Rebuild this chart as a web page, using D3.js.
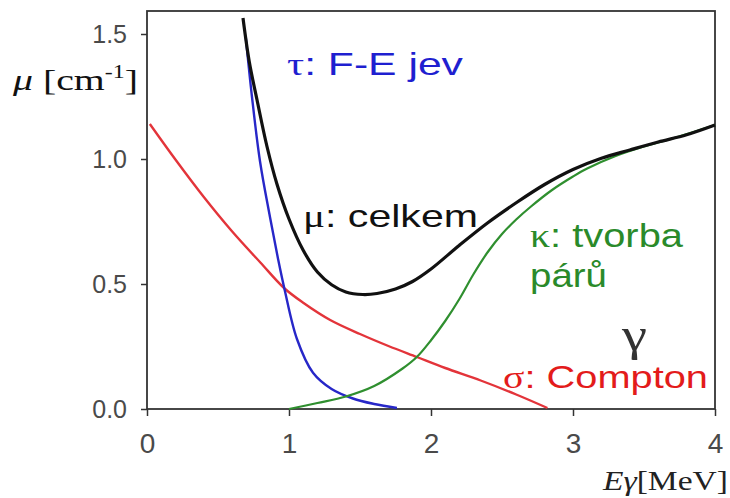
<!DOCTYPE html>
<html>
<head>
<meta charset="utf-8">
<script src="https://cdn.jsdelivr.net/npm/d3@7"></script>
<style>
  html, body { margin: 0; padding: 0; background: #fff; }
  svg { display: block; }
</style>
</head>
<body>
<svg id="chart" width="730" height="498"></svg>
<script>
// ---- data ----
const xTicks = [0, 1, 2, 3, 4];
const yTicks = [0.0, 0.5, 1.0, 1.5];
const xTickLabels = ["0", "1", "2", "3", "4"];
const yTickLabels = ["0.0", "0.5", "1.0", "1.5"];

// μ: celkem (total)
const totalMu = [[0.676,1.564],[0.72,1.39],[0.775,1.236],[0.845,1.05],[0.915,0.9],[1.0,0.76],
  [1.1,0.635],[1.2,0.548],[1.3,0.497],[1.4,0.468],[1.52,0.458],[1.62,0.462],[1.75,0.48],
  [1.87,0.51],[2.0,0.56],[2.2,0.655],[2.4,0.745],[2.6,0.825],[2.8,0.898],[3.0,0.958],
  [3.2,1.003],[3.4,1.036],[3.6,1.068],[3.8,1.097],[4.0,1.136]];
// τ: F-E jev (photoeffect)
const photoTau = [[0.695,1.49],[0.739,1.25],[0.796,0.99],[0.866,0.768],[0.923,0.6],[0.97,0.475],
  [1.056,0.28],[1.169,0.145],[1.3,0.08],[1.45,0.042],[1.6,0.02],[1.76,0.004]];
// σ: Compton
const comptonSigma = [[0.02,1.14],[0.2,0.998],[0.4,0.848],[0.6,0.71],[0.8,0.585],[0.965,0.484],
  [1.1,0.425],[1.29,0.356],[1.5,0.3],[1.7,0.252],[1.9,0.208],[2.1,0.164],[2.35,0.114],
  [2.6,0.058],[2.82,0.004]];
// κ: tvorba párů (pair production)
const pairKappa = [[1.0,0.0],[1.2,0.024],[1.4,0.05],[1.6,0.092],[1.8,0.162],[1.9,0.208],
  [2.0,0.275],[2.1,0.352],[2.2,0.44],[2.3,0.54],[2.4,0.628],[2.5,0.7],[2.6,0.758],[2.7,0.808],
  [2.85,0.875],[3.0,0.93],[3.1,0.962],[3.3,1.012],[3.5,1.05],[3.7,1.082],[4.0,1.136]];

// ---- layout ----
const W = 730, H = 498;
const m = {left: 147, right: 15, top: 11, bottom: 89};
const svg = d3.select("#chart");
svg.append("rect").attr("width", W).attr("height", H).attr("fill", "#fff");

const x = d3.scaleLinear().domain([0, 4]).range([m.left, W - m.right]);
const y = d3.scaleLinear().domain([0, 1.592]).range([H - m.bottom, m.top]);

const SANS = "'Liberation Sans', Arial, sans-serif";
const SERIF = "'Liberation Serif', 'Times New Roman', serif";

// axes
const yAxis = svg.append("g").attr("transform", `translate(${m.left},0)`)
  .call(d3.axisLeft(y).tickValues(yTicks).tickFormat((d, i) => yTickLabels[i]).tickSize(6).tickPadding(14));
const xAxis = svg.append("g").attr("transform", `translate(0,${H - m.bottom})`)
  .call(d3.axisBottom(x).tickValues(xTicks).tickFormat((d, i) => xTickLabels[i]).tickSize(7).tickPadding(17));
[yAxis, xAxis].forEach(a => {
  a.select(".domain").remove();
  a.selectAll(".tick line").attr("stroke", "#333").attr("stroke-width", 1.5);
  a.selectAll(".tick text").attr("fill", "#4a4a4a").attr("font-family", SANS);
});
yAxis.selectAll(".tick text").attr("font-size", 25);
xAxis.selectAll(".tick text").attr("font-size", 28);

// frame
svg.append("rect")
  .attr("x", x(0)).attr("y", y(1.592))
  .attr("width", x(4) - x(0)).attr("height", y(0) - y(1.592))
  .attr("fill", "none").attr("stroke", "#333").attr("stroke-width", 1.8);

// curves
const line = d3.line().x(d => x(d[0])).y(d => y(d[1])).curve(d3.curveCatmullRom.alpha(0.5));
const series = [
  {data: comptonSigma, color: "#e3343a", w: 2.4},
  {data: photoTau, color: "#2727c8", w: 2.4},
  {data: pairKappa, color: "#2f8f2f", w: 2.2},
  {data: totalMu, color: "#111", w: 3.2}
];
series.forEach(s => {
  svg.append("path").attr("d", line(s.data)).attr("fill", "none")
    .attr("stroke", s.color).attr("stroke-width", s.w).attr("stroke-linejoin", "round");
});

// text helper: place text at (tx, baseline) and stretch horizontally to target width
function label(tx, ty, width, size, color, parts) {
  const g = svg.append("g");
  const t = g.append("text").attr("x", 0).attr("y", 0).attr("font-size", size).attr("fill", color);
  parts.forEach(p => {
    const ts = t.append("tspan").text(p.t).attr("font-family", p.serif ? SERIF : SANS);
    if (p.italic) ts.attr("font-style", "italic");
    if (p.sup) ts.attr("font-size", size * 0.6).attr("dy", -size * 0.4);
    if (p.down) ts.attr("dy", p.down);
  });
  const w0 = t.node().getComputedTextLength();
  const sx = width / w0;
  g.attr("transform", `translate(${tx},${ty}) scale(${sx},1)`);
}

label(287, 75, 176, 32, "#1f1fd0", [{t: "τ", serif: true}, {t: ": F-E jev"}]);
label(303, 227, 175, 32, "#111", [{t: "μ", serif: true}, {t: ": celkem"}]);
label(530, 247, 153, 33, "#2a8a2a", [{t: "κ", serif: true}, {t: ": tvorba"}]);
label(530, 287, 77, 33, "#2a8a2a", [{t: "párů"}]);
label(503, 388, 205, 31, "#e31b1b", [{t: "σ", serif: true}, {t: ": Compton"}]);
label(622, 350, 25, 46, "#333", [{t: "γ", serif: true}]);

// axis titles
label(13, 90, 125, 30, "#111", [{t: "μ", serif: true, italic: true}, {t: " [cm", serif: true},
  {t: "-1", serif: true, sup: true}, {t: "]", serif: true, down: 12}]);
label(603, 490, 125, 28, "#222", [{t: "Eγ", serif: true, italic: true}, {t: "[MeV]", serif: true}]);
</script>
</body>
</html>
